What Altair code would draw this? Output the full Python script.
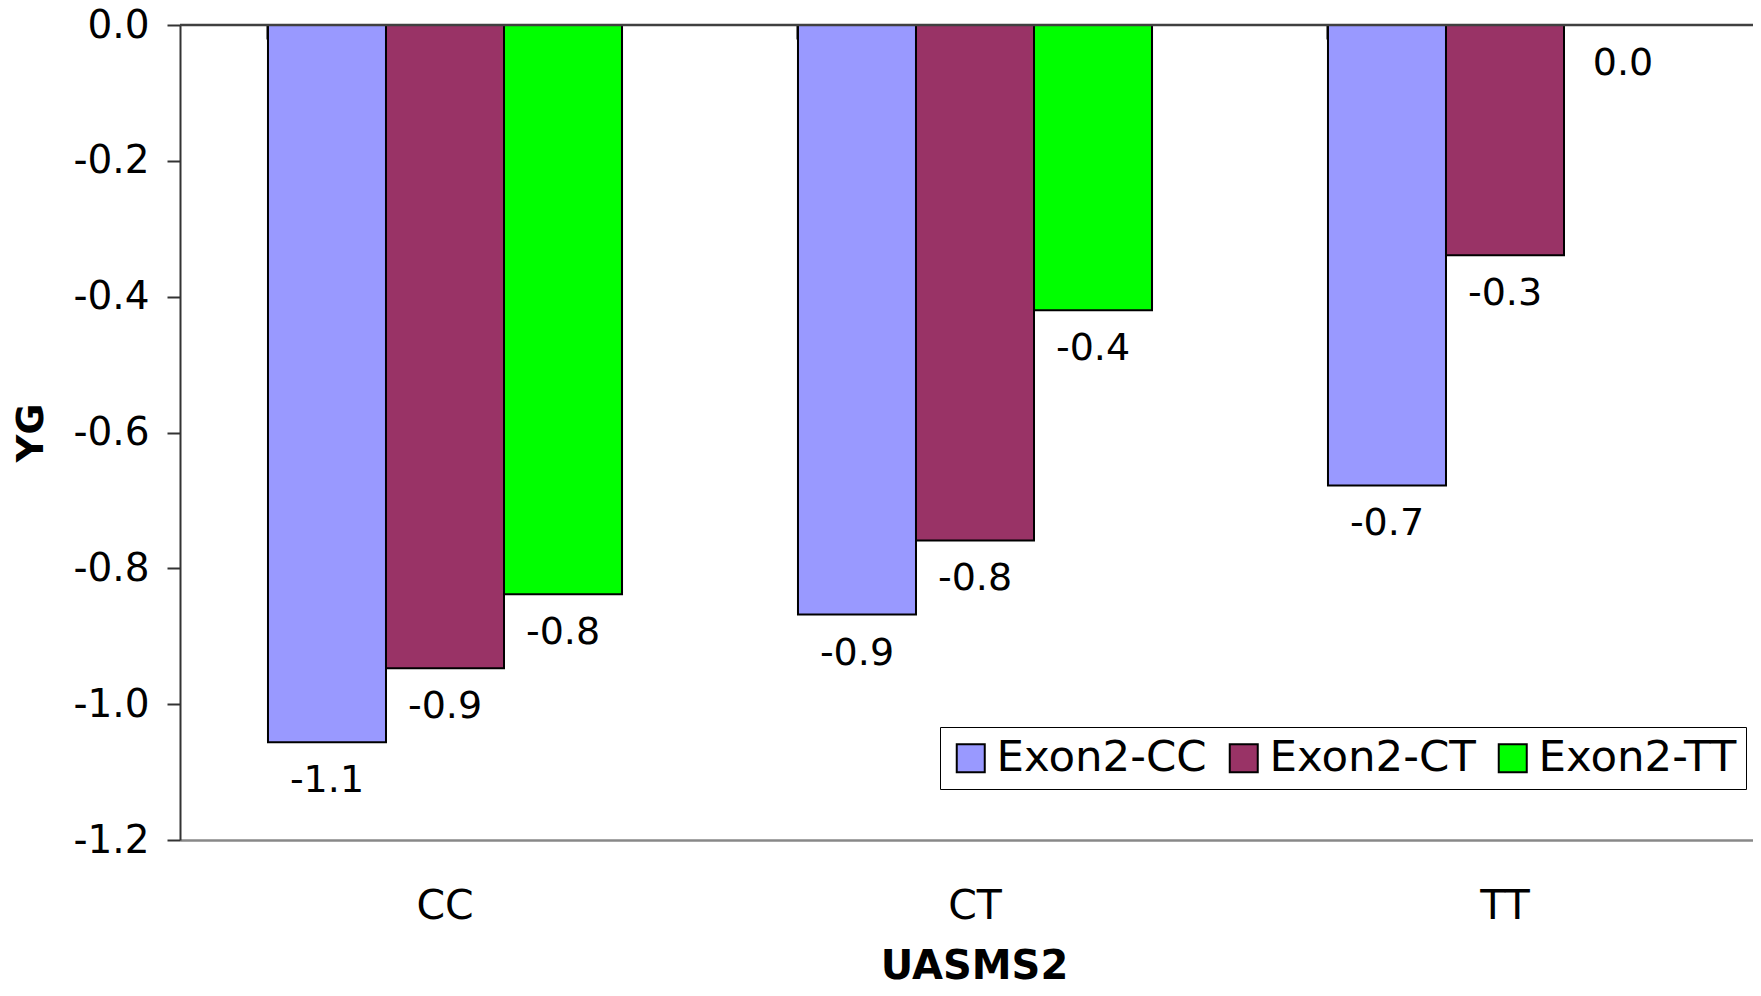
import altair as alt
import pandas as pd

groups = ["CC", "CT", "TT"]
series = ["Exon2-CC", "Exon2-CT", "Exon2-TT"]
exon2_cc = [-1.056, -0.868, -0.678]
exon2_ct = [-0.947, -0.759, -0.339]
exon2_tt = [-0.838, -0.420, 0.0]
colors = ["#9999FF", "#993366", "#00FF00"]
y_ticks = [-1.2, -1.0, -0.8, -0.6, -0.4, -0.2, 0.0]

rows = []
for s, vals in zip(series, [exon2_cc, exon2_ct, exon2_tt]):
    for g, v in zip(groups, vals):
        rows.append({"group": g, "series": s, "value": v, "label": f"{v:.1f}"})
df = pd.DataFrame(rows)

FONT = "DejaVu Sans"
W, H = 1573, 815

xscale = alt.Scale(domain=groups, paddingInner=0.332, paddingOuter=0.166, range=[0, 1590])
offscale = alt.Scale(domain=series, paddingInner=0, paddingOuter=0)
yscale = alt.Scale(domain=[-1.2, 0], nice=False, zero=False)

base = alt.Chart(df)

bars = base.mark_bar(stroke="black", strokeWidth=2).encode(
    x=alt.X("group:N", scale=xscale, sort=groups,
            axis=alt.Axis(orient="bottom", title="UASMS2", ticks=False,
                          labelPadding=66, labelBaseline="middle", labelAngle=0,
                          labelFontSize=41, labelFont=FONT, labelColor="black",
                          domainColor="#888888", domainWidth=2.5,
                          titleFont=FONT, titleFontSize=40, titleFontWeight="bold",
                          titleColor="black", titleX=794, titleY=126,
                          titleBaseline="middle", titleAlign="center")),
    xOffset=alt.XOffset("series:N", scale=offscale, sort=series),
    y=alt.Y("value:Q", scale=yscale,
            axis=alt.Axis(values=y_ticks, title="YG",
                          labelExpr="replace(format(datum.value, '.1f'), '\u2212', '-')",
                          labelFontSize=39, labelFont=FONT, labelColor="black",
                          labelPadding=18, tickSize=13, tickWidth=2, tickColor="#333333",
                          domainColor="#333333", domainWidth=2, grid=False,
                          titleFont=FONT, titleFontSize=38, titleFontWeight="bold",
                          titleColor="black", titleAngle=270, titleX=-149, titleY=H / 2,
                          titleBaseline="middle", titleAlign="center")),
    color=alt.Color("series:N", sort=series,
                    scale=alt.Scale(domain=series, range=colors),
                    legend=alt.Legend(title=None, orient="none", legendX=760, legendY=702,
                                      direction="horizontal", columns=3,
                                      symbolType="square", symbolSize=784,
                                      symbolStrokeColor="black", symbolStrokeWidth=2,
                                      labelFont=FONT, labelFontSize=43.5, labelColor="black",
                                      labelOffset=4, columnPadding=15, padding=9,
                                      labelLimit=400,
                                      strokeColor="black", fillColor="white")),
)

labels = base.mark_text(font=FONT, fontSize=38, color="black",
                        baseline="middle", align="center", dy=39).encode(
    x=alt.X("group:N", scale=xscale, sort=groups,
            axis=alt.Axis(orient="top", title=None, labels=False, domain=False,
                          bandPosition=0, tickSize=14, tickWidth=2,
                          tickColor="black", offset=-14)),
    xOffset=alt.XOffset("series:N", scale=offscale, sort=series),
    y=alt.Y("value:Q", scale=yscale),
    text="label:N",
)

zero_line = alt.Chart(pd.DataFrame({"v": [0.0]})).mark_rule(
    color="#404040", strokeWidth=2.5).encode(y=alt.Y("v:Q", scale=yscale))

chart = alt.layer(bars, zero_line, labels).resolve_axis(x="independent").properties(
    width=W, height=H,
    autosize=alt.AutoSizeParams(type="none"),
    padding={"left": 172, "top": 17, "right": 0, "bottom": 148},
).configure_view(stroke=None)

chart.save("out.html", embed_options={"renderer": "svg", "actions": False})
